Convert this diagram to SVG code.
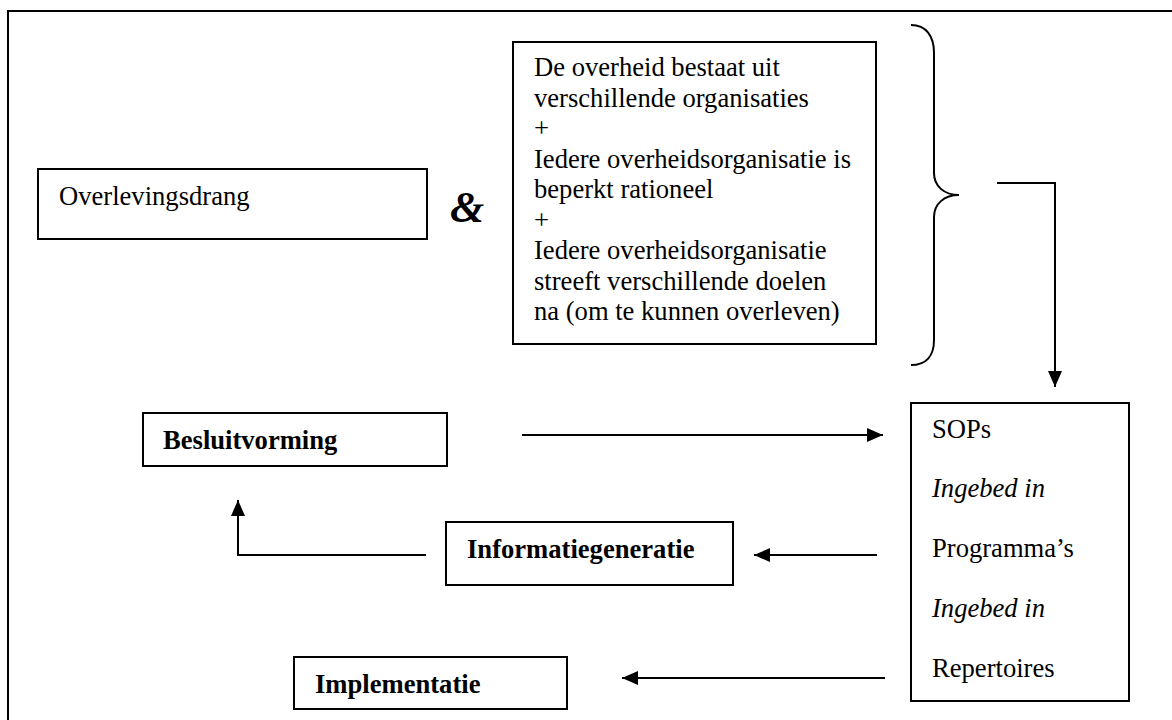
<svg xmlns="http://www.w3.org/2000/svg" width="1172" height="720" viewBox="0 0 1172 720">
  <defs>
    <style>
      .box { fill: #ffffff; stroke: #000000; stroke-width: 2; }
      .t { font-family: "Liberation Serif", "Times New Roman", serif; font-size: 26.6px; fill: #000000; }
      .b { font-weight: bold; }
      .i { font-style: italic; }
      .amp { font-family: "Liberation Serif", "Times New Roman", serif; font-size: 44px; font-weight: bold; font-style: italic; fill: #000000; }
      .ln { fill: none; stroke: #000000; stroke-width: 2; }
    </style>
    <marker id="ah" viewBox="0 0 16 14" refX="16" refY="7" markerWidth="16" markerHeight="14" markerUnits="userSpaceOnUse" orient="auto">
      <path d="M0,0 L16,7 L0,14 Z" fill="#000000"/>
    </marker>
  </defs>
  <rect width="1172" height="720" fill="#ffffff"/>
  <path id="frame" class="ln" d="M8,720 L8,11 L1172,11"/>

  <g id="overlevingsdrang">
    <rect class="box" x="38" y="169" width="389" height="70"/>
    <text class="t" x="59" y="205">Overlevingsdrang</text>
  </g>

  <g id="ampersand">
    <text class="amp" x="450" y="222">&amp;</text>
  </g>

  <g id="overheid">
    <rect class="box" x="513" y="42" width="363" height="302"/>
    <text class="t" x="534">
      <tspan x="534" y="76">De overheid bestaat uit</tspan>
      <tspan x="534" y="106.5">verschillende organisaties</tspan>
      <tspan x="534" y="137">+</tspan>
      <tspan x="534" y="167.5">Iedere overheidsorganisatie is</tspan>
      <tspan x="534" y="198">beperkt rationeel</tspan>
      <tspan x="534" y="228.5">+</tspan>
      <tspan x="534" y="259">Iedere overheidsorganisatie</tspan>
      <tspan x="534" y="289.5">streeft verschillende doelen</tspan>
      <tspan x="534" y="320">na (om te kunnen overleven)</tspan>
    </text>
  </g>

  <g id="brace">
    <path class="ln" d="M911,25 C926,25 934,36 934,53 L934,173 C934,186 944,195 959,195 C944,195 934,204 934,217 L934,340 C934,356 926,365 911,365"/>
  </g>

  <g id="sops">
    <rect class="box" x="911" y="403" width="218" height="298"/>
    <text class="t" x="932" y="438">SOPs</text>
    <text class="t i" x="932" y="497">Ingebed in</text>
    <text class="t" x="932" y="557">Programma’s</text>
    <text class="t i" x="932" y="617">Ingebed in</text>
    <text class="t" x="932" y="677">Repertoires</text>
  </g>

  <g id="besluitvorming">
    <rect class="box" x="143" y="413" width="304" height="53"/>
    <text class="t b" x="163" y="449">Besluitvorming</text>
  </g>

  <g id="informatiegeneratie">
    <rect class="box" x="446" y="522" width="287" height="63"/>
    <text class="t b" x="467" y="558">Informatiegeneratie</text>
  </g>

  <g id="implementatie">
    <rect class="box" x="294" y="657" width="273" height="52"/>
    <text class="t b" x="315" y="693">Implementatie</text>
  </g>

  <g id="connectors">
    <path class="ln" d="M997,183 L1055,183 L1055,387" marker-end="url(#ah)"/>
    <path class="ln" d="M522,435 L883,435" marker-end="url(#ah)"/>
    <path class="ln" d="M877,555 L754,555" marker-end="url(#ah)"/>
    <path class="ln" d="M426,555 L238,555 L238,500" marker-end="url(#ah)"/>
    <path class="ln" d="M885,678 L622,678" marker-end="url(#ah)"/>
  </g>
</svg>
